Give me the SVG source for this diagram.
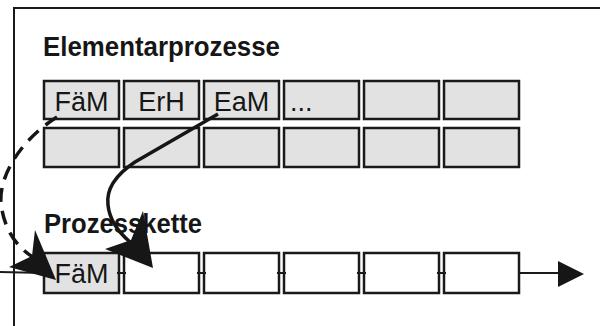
<svg xmlns="http://www.w3.org/2000/svg" width="600" height="326" viewBox="0 0 600 326">
<style>
.box{fill:#e2e2e2;stroke:#1a1a1a;stroke-width:2.5}
.wbox{fill:#ffffff;stroke:#1a1a1a;stroke-width:2.5}
.lbl{font-family:"Liberation Sans",Arial,sans-serif;font-size:27px;fill:#161616;text-anchor:middle}
.title{font-family:"Liberation Sans",Arial,sans-serif;font-size:27px;font-weight:bold;fill:#161616}
.ln{fill:none;stroke:#1a1a1a;stroke-width:2}
.head{fill:#161616;stroke:none}
</style>
<rect x="0" y="0" width="600" height="326" fill="#ffffff"/>
<g id="frame">
<path class="ln" d="M14,326 L14,8 L600,8"/>
</g>
<text class="title" x="43" y="56" textLength="237" lengthAdjust="spacingAndGlyphs">Elementarprozesse</text>
<text class="title" x="44" y="233" textLength="158" lengthAdjust="spacingAndGlyphs">Prozesskette</text>
<g id="elem-FaeM"><rect class="box" x="44" y="81" width="75" height="38"/><text class="lbl" x="81.5" y="111">FäM</text></g>
<g id="elem-ErH"><rect class="box" x="124" y="81" width="75" height="38"/><text class="lbl" x="161.5" y="111">ErH</text></g>
<g id="elem-EaM"><rect class="box" x="204" y="81" width="75" height="38"/><text class="lbl" x="241.5" y="111">EaM</text></g>
<g id="elem-dots"><rect class="box" x="284" y="81" width="75" height="38"/><text class="lbl" x="290" y="111" style="text-anchor:start">...</text></g>
<g id="elem-5"><rect class="box" x="364" y="81" width="75" height="38"/></g>
<g id="elem-6"><rect class="box" x="444" y="81" width="75" height="38"/></g>
<g id="elem-7"><rect class="box" x="44" y="128" width="75" height="39"/></g>
<g id="elem-8"><rect class="box" x="124" y="128" width="75" height="39"/></g>
<g id="elem-9"><rect class="box" x="204" y="128" width="75" height="39"/></g>
<g id="elem-10"><rect class="box" x="284" y="128" width="75" height="39"/></g>
<g id="elem-11"><rect class="box" x="364" y="128" width="75" height="39"/></g>
<g id="elem-12"><rect class="box" x="444" y="128" width="75" height="39"/></g>
<g id="chain-1"><rect class="box" x="44" y="253" width="75" height="40"/><text class="lbl" x="81.5" y="283">FäM</text></g>
<g id="chain-2"><rect class="wbox" x="124" y="253" width="75" height="40"/></g>
<g id="chain-3"><rect class="wbox" x="204" y="253" width="75" height="40"/></g>
<g id="chain-4"><rect class="wbox" x="284" y="253" width="75" height="40"/></g>
<g id="chain-5"><rect class="wbox" x="364" y="253" width="75" height="40"/></g>
<g id="chain-6"><rect class="wbox" x="444" y="253" width="75" height="40"/></g>
<g id="connectors">
<path class="ln" d="M0,272 L44,273"/>
<path class="ln" d="M117,273 L126,273 M197,273 L206,273 M277,273 L286,273 M357,273 L366,273 M437,273 L446,273"/>
<path class="ln" d="M519,273 L560,273"/>
<polygon class="head" points="558,261 584,274 558,287"/>
<path fill="none" stroke="#161616" stroke-width="3.5" stroke-dasharray="14,9" d="M57,117 C20,140 -5,180 2,210 C6,232 18,248 33,257"/>
<polygon class="head" points="56,280 35,230 32,256 9,267"/>
<path fill="none" stroke="#161616" stroke-width="3.5" d="M218,114 L135,162 Q105,182 108,205 Q110,225 130,242"/>
<polygon class="head" points="153,268 143,211 131,240 105,249"/>
</g>
</svg>
